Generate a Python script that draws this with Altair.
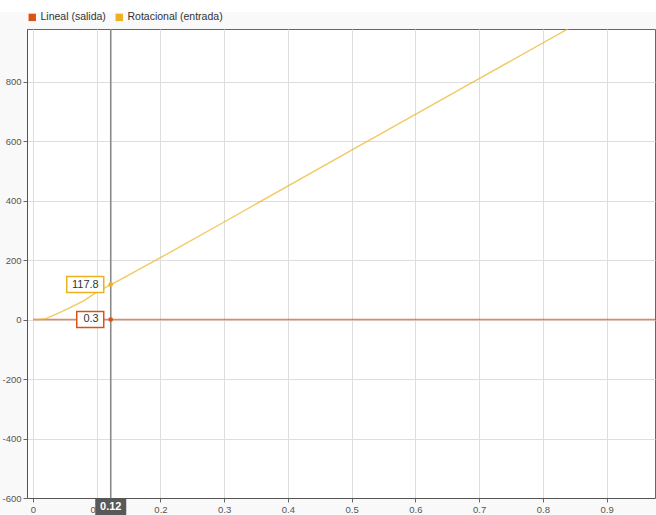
import altair as alt
import pandas as pd

# Data
t = [0, 0.01, 0.02, 0.04, 0.06, 0.08, 0.10, 0.122, 0.14, 0.16, 0.20, 0.30, 0.50, 0.70, 0.84, 0.976]
rotacional = [0, 0, 3, 22, 42, 64, 92, 117.8, 138, 161, 208, 328, 570, 810, 978, 1140]
lineal = [0, 0, 0, 0.06, 0.11, 0.16, 0.23, 0.3, 0.3, 0.3, 0.3, 0.3, 0.3, 0.3, 0.3, 0.3]
series_names = ["Lineal (salida)", "Rotacional (entrada)"]
series_colors = ["#D95319", "#EDB120"]
cursor_t = 0.122
cursor_text = "0.12"
cursor_vals = [0.3, 117.8]
cursor_labels = ["0.3", "117.8"]
x_ticks = [0, 0.1, 0.2, 0.3, 0.4, 0.5, 0.6, 0.7, 0.8, 0.9]
y_ticks = [-600, -400, -200, 0, 200, 400, 600, 800]

FONT = "Liberation Sans"

df = pd.DataFrame({
    "t": t * 2,
    "v": lineal + rotacional,
    "serie": [series_names[0]] * len(t) + [series_names[1]] * len(t),
})

xs = alt.Scale(domain=[-0.0094, 0.976], nice=False, zero=False)
ys = alt.Scale(domain=[-600, 977], nice=False, zero=False)
color = alt.Scale(domain=series_names, range=series_colors)

xaxis = alt.Axis(values=x_ticks, format=".1~f", title=None, labelFont=FONT, labelFontSize=9.5,
                 labelColor="#555", tickColor="#666", tickSize=4, domainColor="#555",
                 gridColor="#dedede", labelPadding=2)
yaxis = alt.Axis(values=y_ticks, labelExpr="toString(datum.value)", title=None,
                 labelFont=FONT, labelFontSize=9.5,
                 labelColor="#555", tickColor="#666", tickSize=4, domainColor="#555",
                 gridColor="#dedede", labelPadding=2)

lines = alt.Chart(df).mark_line(strokeWidth=1.4, opacity=0.7, clip=True).encode(
    x=alt.X("t:Q", scale=xs, axis=xaxis),
    y=alt.Y("v:Q", scale=ys, axis=yaxis),
    color=alt.Color("serie:N", scale=color, sort=series_names,
                    legend=alt.Legend(title=None, orient="none", legendX=0, legendY=-17,
                                      direction="horizontal", symbolType="square",
                                      symbolSize=55, symbolStrokeWidth=0, symbolOpacity=1,
                                      labelFont=FONT,
                                      labelFontSize=10.5, labelColor="#333", columnPadding=8,
                                      labelOffset=3)),
    order="t:Q",
)

# top white band
band = alt.Chart(pd.DataFrame({"a": [0]})).mark_rect(color="white").encode(
    x=alt.value(-27), x2=alt.value(629), y=alt.value(-29), y2=alt.value(-17))

cur_df = pd.DataFrame({"t": [cursor_t]})
rule = alt.Chart(cur_df).mark_rule(color="#8a8a8a", strokeWidth=1.6).encode(
    x=alt.X("t:Q", scale=xs), y=alt.value(0), y2=alt.value(469))

cbox = alt.Chart(cur_df).mark_rect(width=31, height=16, color="#595959").encode(
    x=alt.X("t:Q", scale=xs), y=alt.value(478))
ctext = alt.Chart(pd.DataFrame({"t": [cursor_t], "lab": [cursor_text]})).mark_text(
    color="white", font=FONT, fontSize=11, fontWeight="bold").encode(
    x=alt.X("t:Q", scale=xs), y=alt.value(478), text="lab:N")

lab_df = pd.DataFrame({"t": [cursor_t] * 2, "v": cursor_vals, "lab": cursor_labels,
                       "serie": series_names})
boxes = []
for i, w in enumerate([27, 37]):
    sub = lab_df.iloc[[i]]
    boxes.append(alt.Chart(sub).mark_rect(width=w, height=16, fill="white",
                                          stroke=series_colors[i], strokeWidth=1.5,
                                          xOffset=-(7 + w / 2)).encode(
        x=alt.X("t:Q", scale=xs), y=alt.Y("v:Q", scale=ys)))
ltext = alt.Chart(lab_df).mark_text(align="right", dx=-12, font=FONT, fontSize=11,
                                    color="#333").encode(
    x=alt.X("t:Q", scale=xs), y=alt.Y("v:Q", scale=ys), text="lab:N")
dots = alt.Chart(lab_df).mark_point(filled=True, size=22, opacity=1).encode(
    x=alt.X("t:Q", scale=xs), y=alt.Y("v:Q", scale=ys),
    color=alt.Color("serie:N", scale=color, legend=None))

chart = alt.layer(band, lines, rule, *boxes, ltext, dots, cbox, ctext).properties(
    width=628, height=469, background="#f9f9f9",
    padding={"left": 27, "top": 29, "right": 1, "bottom": 17},
    autosize=alt.AutoSizeParams(type="none"),
).configure_view(fill="white", stroke="#666", strokeWidth=1)

chart.save("out.html", embed_options={"renderer": "svg", "actions": False})
